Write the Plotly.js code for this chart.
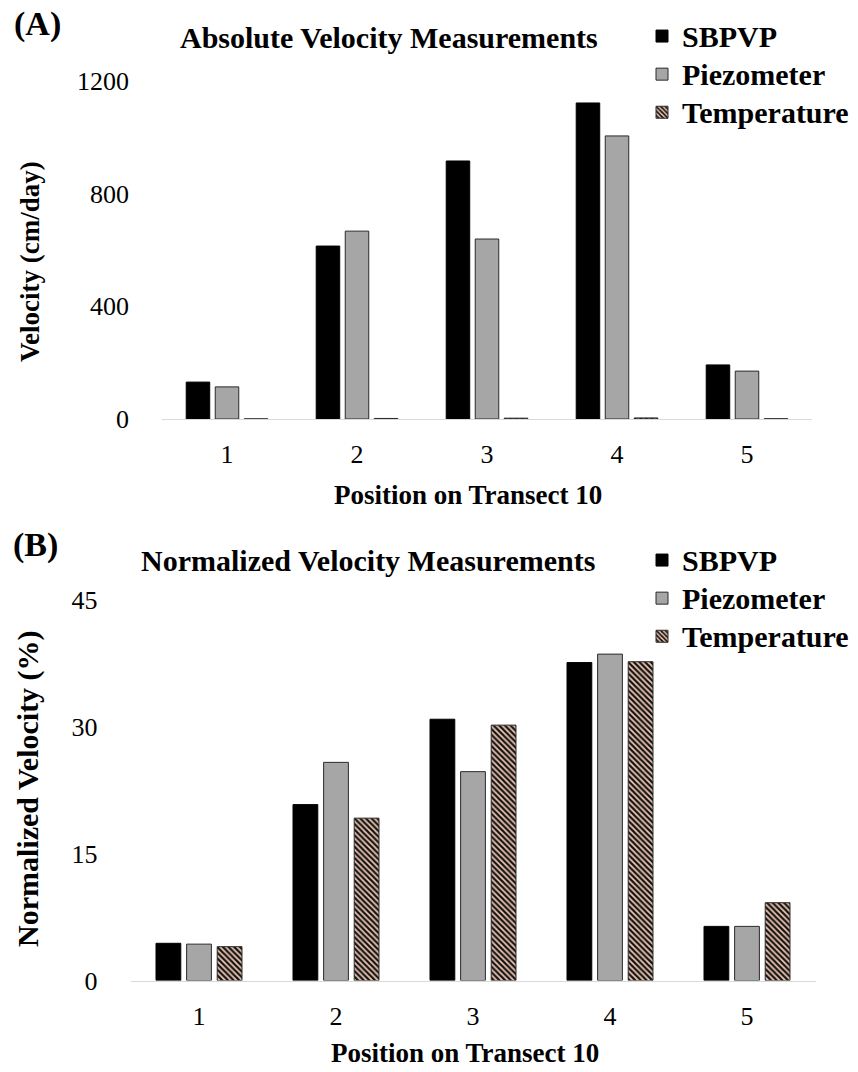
<!DOCTYPE html>
<html>
<head>
<meta charset="utf-8">
<script src="https://cdn.plot.ly/plotly-3.0.1.min.js"></script>
<style>html,body{margin:0;padding:0;background:#fff;}#chart{width:858px;height:1072px;}</style>
</head>
<body>
<div id="chart"></div>
<script>
// ---- data ----
const positions = ['1', '2', '3', '4', '5'];
const seriesNames = ['SBPVP', 'Piezometer', 'Temperature'];
// (A) Absolute velocity (cm/day)
const absSBPVP = [131, 614, 916, 1122, 192];
const absPiezometer = [114, 667, 639, 1005, 170];
const absTemperature = [0.4, 1.9, 3.0, 3.8, 0.9];
// (B) Normalized velocity (%)
const normSBPVP = [4.4, 20.8, 30.9, 37.6, 6.4];
const normPiezometer = [4.3, 25.8, 24.7, 38.6, 6.4];
const normTemperature = [4.0, 19.2, 30.2, 37.7, 9.2];
const absTicks = [0, 400, 800, 1200];
const normTicks = [0, 15, 30, 45];

const SERIF = '"Liberation Serif", "DejaVu Serif", serif';
const styles = [
  {color: '#000000', line: {color: '#000000', width: 1}},
  {color: '#a6a6a6', line: {color: '#2a2a2a', width: 1}},
  {color: '#efc7b2', line: {color: '#2a2a2a', width: 1},
   pattern: {shape: '\\', fgcolor: '#141414', bgcolor: '#efc7b2', size: 4, solidity: 0.55}}
];

function mk(vals, i, xa, ya, leg) {
  return {
    type: 'bar', x: positions, y: vals,
    name: '<span style="font-size:30px">' + seriesNames[i] + '</span>',
    xaxis: xa, yaxis: ya, legend: leg, marker: styles[i], hoverinfo: 'y'
  };
}
const data = [
  mk(absSBPVP, 0, 'x', 'y', 'legend'),
  mk(absPiezometer, 1, 'x', 'y', 'legend'),
  mk(absTemperature, 2, 'x', 'y', 'legend'),
  mk(normSBPVP, 0, 'x2', 'y2', 'legend2'),
  mk(normPiezometer, 1, 'x2', 'y2', 'legend2'),
  mk(normTemperature, 2, 'x2', 'y2', 'legend2')
];

const tickFont = {family: SERIF, size: 26, color: '#000'};
function xax(dom, anchor) {
  return {domain: dom, anchor: anchor, type: 'category', showline: true, linecolor: '#d9d9d9',
    linewidth: 1, ticks: '', showgrid: false, zeroline: false, tickfont: tickFont,
    ticklabelstandoff: 12, fixedrange: true};
}
function yax(dom, anchor, range, ticks) {
  return {domain: dom, anchor: anchor, range: range, tickvals: ticks, showline: false,
    ticks: '', showgrid: false, zeroline: false, tickfont: tickFont,
    ticklabelstandoff: 32, fixedrange: true};
}
function ann(text, x, y, size, extra) {
  return Object.assign({text: text, xref: 'paper', yref: 'paper', x: x, y: y,
    xanchor: 'center', yanchor: 'middle', showarrow: false,
    font: {family: SERIF, size: size, color: '#000', weight: 'bold'}}, extra || {});
}
const H = 1072, W = 858;
const py = p => 1 - p / H, px = p => p / W;

const legendFont = {family: SERIF, size: 27, color: '#000', weight: 'bold'};
const layout = {
  width: W, height: H,
  margin: {l: 0, r: 0, t: 0, b: 0},
  paper_bgcolor: '#fff', plot_bgcolor: '#fff',
  barmode: 'group', bargap: 0.33, bargroupgap: 0.19,
  showlegend: true,
  xaxis: xax([px(162), px(812)], 'y'),
  yaxis: yax([py(419), py(81)], 'x', [0, 1200], absTicks),
  xaxis2: xax([px(130.5), px(815.5)], 'y2'),
  yaxis2: yax([py(980.5), py(600)], 'x2', [0, 45], normTicks),
  legend: {x: px(642), y: py(12), xanchor: 'left', yanchor: 'top', bgcolor: 'rgba(0,0,0,0)',
    font: legendFont, itemwidth: 30, traceorder: 'normal'},
  legend2: {x: px(642), y: py(536), xanchor: 'left', yanchor: 'top', bgcolor: 'rgba(0,0,0,0)',
    font: legendFont, itemwidth: 30, traceorder: 'normal'},
  annotations: [
    ann('(A)', px(37), py(24), 34),
    ann('Absolute Velocity Measurements', px(389), py(38), 30),
    ann('Velocity (cm/day)', px(30), py(262), 27, {textangle: -90}),
    ann('Position on Transect 10', px(468), py(495), 27),
    ann('(B)', px(35), py(545), 34),
    ann('Normalized Velocity Measurements', px(368), py(560), 30),
    ann('Normalized Velocity (%)', px(28), py(789), 30, {textangle: -90}),
    ann('Position on Transect 10', px(465), py(1053), 27)
  ]
};
Plotly.newPlot('chart', data, layout, {staticPlot: true, displayModeBar: false});
</script>
</body>
</html>
